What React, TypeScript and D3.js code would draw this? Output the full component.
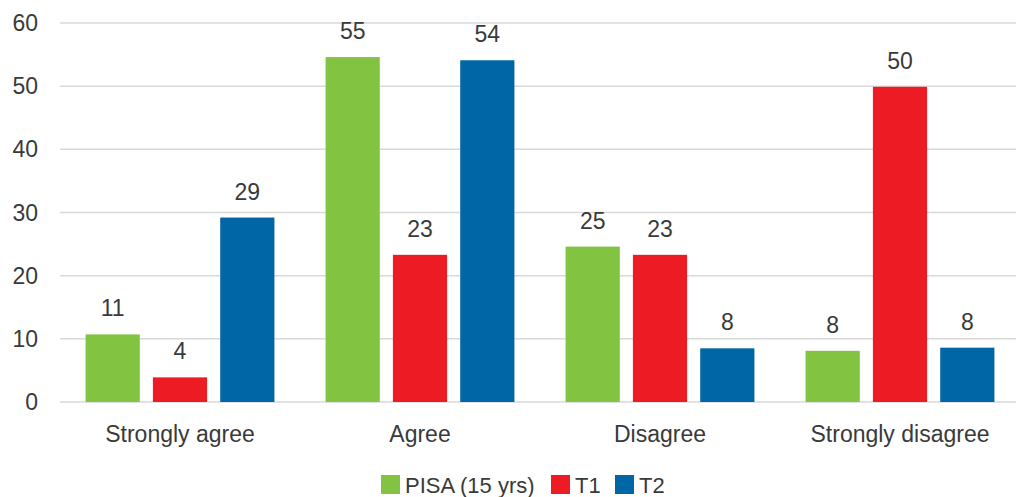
import React from "react";
import * as d3 from "d3";

const categories = ["Strongly agree", "Agree", "Disagree", "Strongly disagree"];
const seriesNames = ["PISA (15 yrs)", "T1", "T2"];
const pisa = [10.7, 54.6, 24.6, 8.1];
const t1 = [3.9, 23.3, 23.3, 49.9];
const t2 = [29.2, 54.1, 8.5, 8.6];
const pisaLabels = ["11", "55", "25", "8"];
const t1Labels = ["4", "23", "23", "50"];
const t2Labels = ["29", "54", "8", "8"];
const yTicks = [0, 10, 20, 30, 40, 50, 60];
const colors = ["#82C341", "#ED1C24", "#0066A6"];

const W = 1016;
const H = 497;
const FONT = "'Liberation Sans', Arial, sans-serif";
const TEXT = "#3a3a3a";

export default function App() {
  const values = [pisa, t1, t2];
  const labels = [pisaLabels, t1Labels, t2Labels];
  const x0 = d3.scaleBand<string>().domain(categories).range([60, 1020]).paddingInner(0).paddingOuter(0);
  const x1 = d3.scaleBand<string>().domain(seriesNames).range([0, x0.bandwidth()]).paddingInner(0.195).paddingOuter(0.38);
  const y = d3.scaleLinear().domain([0, 60]).range([402, 23]);

  return (
    <svg width={W} height={H} style={{ position: "absolute", left: 0, top: 0, background: "#fff" }} fontFamily={FONT}>
      {yTicks.map((t) => (
        <g key={t}>
          <line x1={60} x2={1016} y1={y(t)} y2={y(t)} stroke="#d9d9d9" strokeWidth={1.5} />
          <text x={38} y={y(t)} dy="0.35em" textAnchor="end" fontSize={23} fill={TEXT}>{t}</text>
        </g>
      ))}
      {categories.map((c, i) => (
        <g key={c}>
          {seriesNames.map((s, j) => {
            const bx = (x0(c) as number) + (x1(s) as number);
            const v = values[j][i];
            return (
              <g key={s}>
                <rect x={bx} y={y(v)} width={x1.bandwidth()} height={y(0) - y(v)} fill={colors[j]} />
                <text x={bx + x1.bandwidth() / 2} y={y(v) - 18} textAnchor="middle" fontSize={23} fill={TEXT}>{labels[j][i]}</text>
              </g>
            );
          })}
          <text x={(x0(c) as number) + x0.bandwidth() / 2} y={442} textAnchor="middle" fontSize={23} fill={TEXT}>{c}</text>
        </g>
      ))}
      <g>
        {(() => {
          const items: JSX.Element[] = [];
          const starts = [381, 551, 615];
          seriesNames.forEach((s, j) => {
            items.push(
              <g key={s}>
                <rect x={starts[j]} y={475} width={19} height={19} fill={colors[j]} />
                <text x={starts[j] + 24} y={493} fontSize={22} fill={TEXT}>{s}</text>
              </g>
            );
          });
          return items;
        })()}
      </g>
    </svg>
  );
}
